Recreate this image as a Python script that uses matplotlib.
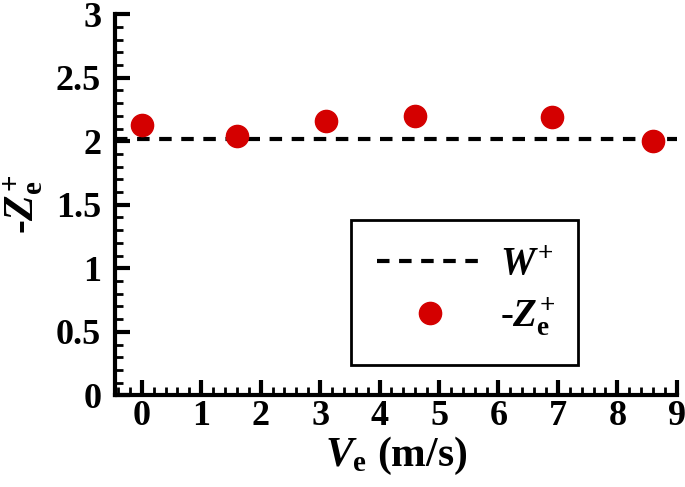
import matplotlib
matplotlib.use('Agg')
import matplotlib.pyplot as plt
from matplotlib.ticker import MultipleLocator
from matplotlib.lines import Line2D

# data
ve = [0.0, 1.6, 3.1, 4.6, 6.9, 8.6]
neg_ze = [2.13, 2.04, 2.16, 2.20, 2.19, 2.00]
w_plus = 2.02
xticks = [0, 1, 2, 3, 4, 5, 6, 7, 8, 9]
yticks = [0, 0.5, 1, 1.5, 2, 2.5, 3]

plt.rcParams['font.family'] = 'Liberation Serif'
plt.rcParams['font.weight'] = 'bold'
plt.rcParams['mathtext.fontset'] = 'custom'
plt.rcParams['mathtext.rm'] = 'Liberation Serif:bold'
plt.rcParams['mathtext.bf'] = 'Liberation Serif:bold'
plt.rcParams['mathtext.it'] = 'Liberation Serif:bold:italic'

fig = plt.figure(figsize=(6.85, 4.87), dpi=100)
ax = fig.add_axes([0.168, 0.188, 0.820, 0.783])

red = '#d40000'
ax.axhline(w_plus, color='black', lw=3, dashes=(3, 2.3))
ax.plot(ve, neg_ze, 'o', color=red, ms=16, mec=red)

ax.set_xlim(-0.45, 9)
ax.set_ylim(0, 3)
ax.set_xticks(xticks)
ax.set_yticks(yticks)
ax.set_yticklabels(['0', '0.5', '1', '1.5', '2', '2.5', '3'])
ax.xaxis.set_minor_locator(MultipleLocator(0.2))
ax.yaxis.set_minor_locator(MultipleLocator(0.1))

for s in ['top', 'right']:
    ax.spines[s].set_visible(False)
for s in ['left', 'bottom']:
    ax.spines[s].set_linewidth(3)

ax.tick_params(which='major', direction='in', length=11, width=3, labelsize=26, pad=3)
ax.tick_params(which='minor', direction='in', length=6, width=2)
ax.tick_params(axis='y', pad=10)

ax.set_xlabel(r'$V_{\rm e}$ (m/s)', fontsize=30, fontweight='bold', labelpad=2)
ax.set_ylabel(r'-$Z_{\rm e}^{+}$', fontsize=30, fontweight='bold', labelpad=8)

handles = [Line2D([], [], color='black', lw=3, dashes=(3, 2.3)),
           Line2D([], [], ls='none', marker='o', color=red, ms=16)]
leg = ax.legend(handles, [r'$W^{+}$', r'-$Z_{\rm e}^{+}$'], loc='lower left',
                bbox_to_anchor=(0.42, 0.08, 0.405, 0.376), mode='expand',
                fontsize=28, handlelength=2.7, frameon=True, fancybox=False,
                borderpad=0.68, labelspacing=0.3, handletextpad=0.45,
                borderaxespad=0)
leg.get_frame().set_edgecolor('black')
leg.get_frame().set_linewidth(2)
leg.get_frame().set_alpha(None)

fig.savefig('out.png', dpi=100)
